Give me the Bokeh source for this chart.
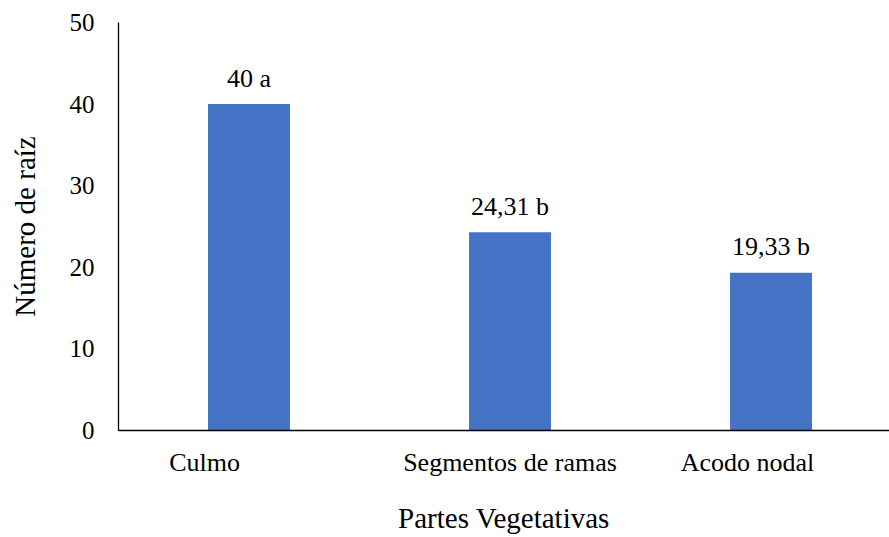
from bokeh.plotting import figure
from bokeh.models import Range1d, FixedTicker, ColumnDataSource
from bokeh.core.properties import value
from bokeh.embed import file_html
from bokeh.resources import INLINE

categories = ["Culmo", "Segmentos de ramas", "Acodo nodal"]
values = [40, 24.31, 19.33]
letters = ["a", "b", "b"]
y_ticks = [0, 10, 20, 30, 40, 50]
x_title = "Partes Vegetativas"
y_title = "Número de raíz"

FONT = "Liberation Serif"
BAR_COLOR = "#4472C4"

xs = [i + 0.5 for i in range(len(categories))]
labels = [f"{v:g}".replace(".", ",") + " " + l for v, l in zip(values, letters)]

src = ColumnDataSource(dict(x=xs, top=values, label=labels))

X_END = 2.954
p = figure(width=889, height=537, output_backend="svg", toolbar_location=None,
           x_range=Range1d(0, X_END), y_range=Range1d(0, 50),
           min_border_left=118, min_border_right=0, min_border_top=22, min_border_bottom=107)

p.vbar(x="x", top="top", width=0.314, bottom=0, source=src, color=BAR_COLOR, line_color=None)
p.text(x="x", y="top", text="label", source=src, text_align="center", text_baseline="alphabetic",
       y_offset=-26, text_font=value(FONT), text_font_size="26px", text_color="black")

p.outline_line_color = None
p.xgrid.visible = False
p.ygrid.visible = False
p.background_fill_color = "white"
p.border_fill_color = "white"

# y axis
p.yaxis.ticker = FixedTicker(ticks=y_ticks)
p.yaxis.minor_tick_line_color = None
p.yaxis.major_tick_line_color = None
p.yaxis.major_tick_out = 0
p.yaxis.major_tick_in = 0
p.yaxis.major_label_standoff = 24
p.yaxis.major_label_text_font = FONT
p.yaxis.major_label_text_font_size = "25px"
p.yaxis.major_label_text_color = "black"
p.yaxis.axis_line_color = "black"
p.yaxis.axis_line_width = 1.3
p.yaxis.axis_label = y_title
p.yaxis.axis_label_text_font = FONT
p.yaxis.axis_label_text_font_size = "29px"
p.yaxis.axis_label_text_font_style = "normal"
p.yaxis.axis_label_text_color = "black"
p.yaxis.axis_label_standoff = 26

# x axis: category labels placed as in the reference
label_pos = [0.33, 1.5, 2.41]
p.xaxis.ticker = FixedTicker(ticks=label_pos)
p.xaxis.major_label_overrides = {pos: c for pos, c in zip(label_pos, categories)}
p.xaxis.minor_tick_line_color = None
p.xaxis.major_tick_line_color = None
p.xaxis.major_tick_out = 0
p.xaxis.major_tick_in = 0
p.xaxis.major_label_standoff = 17
p.xaxis.major_label_text_font = FONT
p.xaxis.major_label_text_font_size = "26px"
p.xaxis.major_label_text_color = "black"
p.xaxis.axis_line_color = "black"
p.xaxis.axis_line_width = 1.3
p.xaxis.axis_label = x_title
p.xaxis.axis_label_text_font = FONT
p.xaxis.axis_label_text_font_size = "29px"
p.xaxis.axis_label_text_font_style = "normal"
p.xaxis.axis_label_text_color = "black"
p.xaxis.axis_label_standoff = 22

open("out.html", "w").write(file_html(p, INLINE))
